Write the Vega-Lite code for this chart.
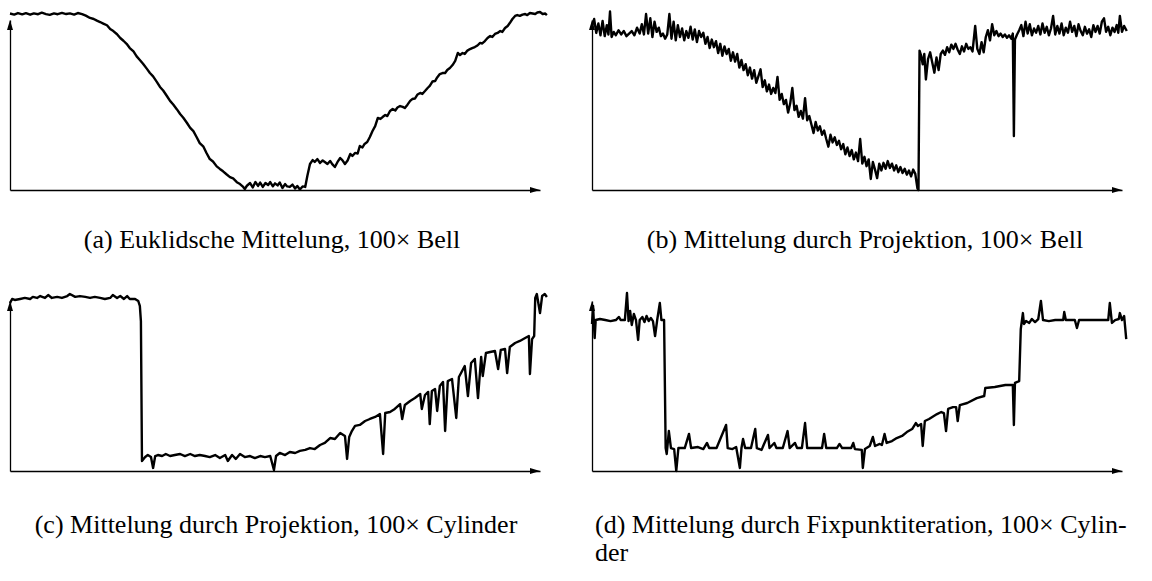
{
"$schema": "https://vega.github.io/schema/vega-lite/v6.json",
"background": "white",
"padding": {"left": 7, "top": 10, "right": 0, "bottom": 0},
"bounds": "flush",
"spacing": 281,
"config": {
  "view": {"stroke": null},
  "title": {"font": "Liberation Serif", "fontSize": 26, "fontWeight": "normal", "color": "black", "orient": "bottom", "offset": 34},
  "axis": {"domainColor": "black", "domainWidth": 1.3, "ticks": false, "labels": false, "grid": false}
},
"datasets": {
"a": [
{"x":0,"y":103.8},{"x":0.8,"y":103.2},{"x":1.5,"y":104.1},{"x":2.3,"y":103.3},{"x":3.0,"y":104.0},{"x":3.8,"y":103.1},{"x":4.5,"y":103.9},{"x":5.3,"y":103.4},{"x":6.0,"y":104.3},{"x":6.8,"y":103.5},{"x":7.5,"y":103.0},{"x":8.3,"y":103.9},{"x":9.0,"y":103.4},{"x":9.8,"y":104.2},{"x":10.6,"y":103.5},{"x":11.3,"y":103.9},{"x":12.1,"y":103.2},{"x":12.8,"y":104.1},{"x":13.6,"y":103.5},{"x":14.3,"y":102.6},{"x":15.1,"y":101.2},{"x":15.8,"y":100.6},{"x":16.4,"y":99.6},{"x":17.0,"y":98.8},{"x":17.6,"y":97.9},{"x":18.3,"y":96.9},{"x":18.9,"y":94.7},{"x":19.5,"y":93.5},{"x":20.2,"y":91.6},{"x":20.8,"y":89.4},{"x":21.4,"y":87.8},{"x":22.0,"y":86.0},{"x":22.6,"y":83.5},{"x":23.3,"y":81.5},{"x":23.9,"y":78.6},{"x":24.5,"y":76.5},{"x":25.1,"y":74.3},{"x":25.8,"y":71.4},{"x":26.4,"y":68.8},{"x":27.0,"y":66.8},{"x":27.7,"y":63.6},{"x":28.3,"y":60.6},{"x":28.9,"y":58.5},{"x":29.6,"y":55.3},{"x":30.2,"y":52.4},{"x":30.8,"y":50.3},{"x":31.5,"y":47.4},{"x":32.1,"y":44.7},{"x":32.7,"y":42.5},{"x":33.4,"y":39.4},{"x":34.0,"y":36.5},{"x":34.6,"y":34.6},{"x":35.2,"y":31.2},{"x":35.8,"y":27.6},{"x":36.5,"y":25.5},{"x":37.1,"y":21.6},{"x":37.7,"y":18.2},{"x":38.3,"y":16.8},{"x":39.0,"y":13.9},{"x":39.6,"y":12.4},{"x":40.2,"y":11.0},{"x":40.9,"y":9.1},{"x":41.5,"y":7.6},{"x":42.1,"y":6.8},{"x":42.8,"y":4.6},{"x":43.4,"y":3.5},{"x":44.0,"y":1.8},{"x":44.3,"y":0.6},{"x":44.7,"y":2.5},{"x":45.3,"y":4.1},{"x":45.8,"y":1.5},{"x":46.3,"y":4.7},{"x":46.8,"y":2.4},{"x":47.2,"y":4.4},{"x":47.7,"y":1.8},{"x":48.2,"y":4.1},{"x":48.7,"y":2.9},{"x":49.1,"y":4.7},{"x":49.6,"y":2.2},{"x":50.0,"y":3.9},{"x":50.5,"y":2.7},{"x":50.9,"y":4.4},{"x":51.4,"y":1.2},{"x":51.9,"y":3.5},{"x":52.3,"y":2.1},{"x":52.8,"y":1.8},{"x":53.3,"y":3.2},{"x":53.8,"y":0.9},{"x":54.2,"y":2.4},{"x":54.7,"y":0.3},{"x":55.2,"y":2.1},{"x":55.7,"y":1.8},{"x":56.1,"y":8.2},{"x":56.6,"y":15.3},{"x":57.1,"y":17.6},{"x":57.5,"y":16.5},{"x":58.0,"y":18.2},{"x":58.5,"y":15.9},{"x":59.0,"y":17.4},{"x":59.4,"y":16.5},{"x":59.9,"y":15.3},{"x":60.4,"y":17.1},{"x":60.8,"y":15.2},{"x":61.3,"y":13.5},{"x":61.8,"y":16.5},{"x":62.3,"y":18.8},{"x":62.7,"y":17.6},{"x":63.2,"y":15.3},{"x":63.7,"y":17.4},{"x":64.2,"y":21.2},{"x":64.6,"y":20.0},{"x":65.1,"y":21.8},{"x":65.6,"y":21.5},{"x":66.0,"y":25.9},{"x":66.5,"y":25.0},{"x":66.9,"y":27.1},{"x":67.4,"y":28.2},{"x":67.9,"y":31.2},{"x":68.4,"y":34.7},{"x":68.9,"y":37.6},{"x":69.4,"y":42.4},{"x":69.9,"y":41.8},{"x":70.3,"y":42.9},{"x":70.8,"y":44.1},{"x":71.2,"y":43.5},{"x":71.7,"y":46.5},{"x":72.2,"y":47.6},{"x":72.7,"y":46.8},{"x":73.1,"y":48.5},{"x":73.6,"y":49.4},{"x":74.1,"y":48.9},{"x":74.5,"y":48.2},{"x":75.0,"y":50.2},{"x":75.5,"y":52.4},{"x":75.9,"y":53.5},{"x":76.4,"y":53.8},{"x":76.9,"y":56.2},{"x":77.4,"y":57.1},{"x":77.8,"y":56.5},{"x":78.3,"y":58.2},{"x":78.8,"y":60.0},{"x":79.2,"y":61.2},{"x":79.7,"y":63.8},{"x":80.2,"y":64.1},{"x":80.6,"y":66.2},{"x":81.1,"y":68.2},{"x":81.6,"y":68.8},{"x":82.1,"y":68.8},{"x":82.5,"y":70.6},{"x":83.0,"y":71.8},{"x":83.5,"y":73.5},{"x":84.0,"y":75.9},{"x":84.5,"y":80.6},{"x":84.9,"y":79.4},{"x":85.4,"y":80.6},{"x":85.8,"y":80.0},{"x":86.3,"y":82.0},{"x":86.8,"y":82.9},{"x":87.2,"y":83.5},{"x":87.7,"y":84.1},{"x":88.2,"y":85.0},{"x":88.7,"y":86.5},{"x":89.1,"y":86.2},{"x":89.6,"y":87.6},{"x":90.1,"y":89.4},{"x":90.6,"y":90.6},{"x":91.0,"y":90.0},{"x":91.5,"y":91.8},{"x":92.0,"y":92.4},{"x":92.5,"y":93.5},{"x":92.9,"y":93.0},{"x":93.4,"y":95.3},{"x":93.9,"y":96.5},{"x":94.3,"y":98.2},{"x":94.8,"y":100.6},{"x":95.3,"y":102.4},{"x":95.7,"y":102.9},{"x":96.2,"y":102.4},{"x":96.7,"y":103.2},{"x":97.2,"y":103.5},{"x":97.6,"y":102.9},{"x":98.1,"y":104.1},{"x":98.6,"y":103.8},{"x":99.1,"y":103.5},{"x":99.5,"y":104.4},{"x":100.0,"y":104.7},{"x":100.5,"y":103.5},{"x":101.0,"y":103.8},{"x":101.3,"y":102.9}
],
"b": [
{"x":0,"y":96.5},{"x":0.4,"y":100.6},{"x":0.8,"y":92.4},{"x":1.2,"y":98.0},{"x":1.6,"y":91.0},{"x":2.0,"y":99.5},{"x":2.4,"y":90.5},{"x":2.8,"y":97.0},{"x":3.1,"y":91.5},{"x":3.4,"y":105.0},{"x":3.7,"y":90.0},{"x":4.1,"y":93.0},{"x":4.5,"y":91.0},{"x":5.0,"y":94.0},{"x":5.5,"y":91.5},{"x":6.0,"y":93.5},{"x":6.5,"y":90.5},{"x":7.0,"y":92.0},{"x":7.5,"y":93.5},{"x":8.0,"y":91.0},{"x":8.5,"y":95.5},{"x":9.0,"y":92.0},{"x":9.4,"y":97.5},{"x":9.8,"y":91.5},{"x":10.2,"y":103.5},{"x":10.6,"y":92.0},{"x":11.0,"y":101.0},{"x":11.4,"y":90.0},{"x":11.8,"y":99.0},{"x":12.2,"y":93.0},{"x":12.6,"y":95.5},{"x":13.0,"y":90.5},{"x":13.4,"y":92.0},{"x":13.8,"y":89.0},{"x":14.2,"y":91.5},{"x":14.6,"y":103.5},{"x":15.0,"y":89.0},{"x":15.4,"y":99.0},{"x":15.8,"y":88.0},{"x":16.2,"y":97.0},{"x":16.6,"y":90.0},{"x":17.0,"y":95.0},{"x":17.4,"y":88.0},{"x":17.8,"y":93.5},{"x":18.2,"y":89.5},{"x":18.6,"y":96.0},{"x":19.0,"y":88.5},{"x":19.4,"y":94.5},{"x":19.8,"y":87.0},{"x":20.2,"y":93.5},{"x":20.6,"y":90.0},{"x":21.0,"y":92.5},{"x":21.4,"y":86.0},{"x":21.8,"y":90.0},{"x":22.2,"y":83.5},{"x":22.6,"y":88.5},{"x":23.0,"y":84.0},{"x":23.4,"y":87.5},{"x":23.8,"y":80.5},{"x":24.2,"y":86.0},{"x":24.6,"y":79.0},{"x":25.0,"y":84.5},{"x":25.4,"y":80.0},{"x":25.8,"y":83.0},{"x":26.2,"y":76.0},{"x":26.6,"y":81.0},{"x":27.0,"y":75.5},{"x":27.4,"y":80.0},{"x":27.8,"y":72.0},{"x":28.2,"y":76.5},{"x":28.6,"y":70.5},{"x":29.0,"y":74.0},{"x":29.4,"y":67.5},{"x":29.8,"y":72.0},{"x":30.2,"y":65.5},{"x":30.6,"y":70.5},{"x":31.0,"y":63.0},{"x":31.4,"y":67.0},{"x":31.8,"y":71.0},{"x":32.2,"y":60.5},{"x":32.6,"y":64.5},{"x":33.0,"y":58.0},{"x":33.4,"y":62.0},{"x":33.8,"y":56.5},{"x":34.2,"y":60.0},{"x":34.6,"y":57.0},{"x":35.0,"y":66.5},{"x":35.4,"y":53.0},{"x":35.8,"y":56.5},{"x":36.2,"y":50.5},{"x":36.6,"y":53.0},{"x":37.0,"y":45.5},{"x":37.4,"y":51.0},{"x":37.8,"y":60.0},{"x":38.2,"y":47.0},{"x":38.6,"y":49.5},{"x":39.0,"y":43.0},{"x":39.4,"y":46.5},{"x":39.8,"y":42.0},{"x":40.2,"y":54.0},{"x":40.6,"y":41.0},{"x":41.0,"y":43.5},{"x":41.4,"y":38.5},{"x":41.8,"y":33.5},{"x":42.2,"y":40.0},{"x":42.6,"y":35.0},{"x":43.0,"y":37.5},{"x":43.4,"y":32.5},{"x":43.8,"y":35.0},{"x":44.2,"y":30.0},{"x":44.6,"y":25.5},{"x":45.0,"y":32.5},{"x":45.4,"y":28.0},{"x":45.8,"y":31.0},{"x":46.2,"y":26.5},{"x":46.6,"y":29.0},{"x":47.0,"y":24.0},{"x":47.4,"y":27.0},{"x":47.8,"y":21.0},{"x":48.2,"y":25.0},{"x":48.6,"y":20.0},{"x":49.0,"y":23.5},{"x":49.4,"y":18.0},{"x":49.8,"y":22.0},{"x":50.2,"y":17.0},{"x":50.6,"y":30.0},{"x":51.0,"y":15.5},{"x":51.4,"y":19.5},{"x":51.8,"y":14.0},{"x":52.2,"y":18.0},{"x":52.6,"y":6.5},{"x":53.0,"y":16.5},{"x":53.4,"y":12.0},{"x":53.8,"y":7.0},{"x":54.2,"y":15.5},{"x":54.6,"y":11.5},{"x":55.0,"y":16.0},{"x":55.4,"y":12.5},{"x":55.8,"y":17.0},{"x":56.2,"y":13.0},{"x":56.6,"y":15.5},{"x":57.0,"y":11.5},{"x":57.4,"y":14.5},{"x":57.8,"y":10.5},{"x":58.2,"y":13.5},{"x":58.6,"y":10.0},{"x":59.0,"y":12.5},{"x":59.4,"y":9.0},{"x":59.8,"y":11.5},{"x":60.2,"y":8.0},{"x":60.6,"y":12.0},{"x":61.0,"y":9.5},{"x":61.4,"y":1.0},{"x":61.6,"y":0.0},{"x":61.8,"y":82.0},{"x":62.1,"y":79.0},{"x":62.4,"y":74.0},{"x":62.7,"y":80.0},{"x":63.0,"y":65.0},{"x":63.4,"y":77.0},{"x":63.8,"y":81.0},{"x":64.2,"y":75.0},{"x":64.6,"y":69.0},{"x":65.0,"y":78.0},{"x":65.4,"y":70.5},{"x":65.8,"y":80.0},{"x":66.2,"y":82.0},{"x":66.6,"y":79.5},{"x":67.0,"y":84.0},{"x":67.4,"y":81.0},{"x":67.8,"y":85.5},{"x":68.2,"y":83.0},{"x":68.6,"y":86.0},{"x":69.0,"y":82.5},{"x":69.4,"y":80.0},{"x":69.8,"y":84.5},{"x":70.2,"y":81.5},{"x":70.6,"y":86.0},{"x":71.0,"y":83.0},{"x":71.4,"y":84.0},{"x":71.8,"y":81.5},{"x":72.3,"y":96.5},{"x":72.7,"y":83.0},{"x":73.1,"y":80.0},{"x":73.5,"y":87.0},{"x":73.9,"y":81.0},{"x":74.3,"y":90.0},{"x":74.7,"y":94.0},{"x":75.1,"y":88.0},{"x":75.5,"y":97.5},{"x":75.9,"y":91.0},{"x":76.3,"y":93.5},{"x":76.7,"y":90.5},{"x":77.1,"y":92.0},{"x":77.5,"y":90.0},{"x":77.9,"y":91.5},{"x":78.3,"y":89.5},{"x":78.7,"y":91.0},{"x":79.1,"y":89.0},{"x":79.4,"y":92.0},{"x":79.6,"y":31.8},{"x":79.8,"y":88.5},{"x":80.2,"y":91.5},{"x":80.6,"y":94.0},{"x":81.0,"y":97.0},{"x":81.4,"y":90.5},{"x":81.8,"y":99.0},{"x":82.2,"y":92.0},{"x":82.6,"y":97.5},{"x":83.0,"y":91.0},{"x":83.4,"y":95.0},{"x":83.8,"y":92.5},{"x":84.2,"y":96.5},{"x":84.6,"y":91.5},{"x":85.0,"y":98.0},{"x":85.4,"y":92.5},{"x":85.8,"y":96.0},{"x":86.2,"y":91.0},{"x":86.6,"y":95.0},{"x":87.0,"y":102.4},{"x":87.4,"y":91.5},{"x":87.8,"y":96.5},{"x":88.2,"y":92.0},{"x":88.6,"y":98.0},{"x":89.0,"y":91.0},{"x":89.4,"y":95.5},{"x":89.8,"y":92.5},{"x":90.2,"y":99.0},{"x":90.6,"y":93.0},{"x":91.0,"y":96.5},{"x":91.4,"y":90.5},{"x":91.8,"y":97.5},{"x":92.2,"y":93.5},{"x":92.6,"y":91.0},{"x":93.0,"y":96.0},{"x":93.4,"y":92.0},{"x":93.8,"y":94.5},{"x":94.2,"y":90.0},{"x":94.6,"y":97.0},{"x":95.0,"y":93.0},{"x":95.4,"y":96.5},{"x":95.8,"y":92.0},{"x":96.2,"y":99.0},{"x":96.6,"y":101.0},{"x":97.0,"y":93.0},{"x":97.4,"y":96.0},{"x":97.8,"y":91.0},{"x":98.2,"y":95.5},{"x":98.6,"y":93.0},{"x":99.0,"y":97.0},{"x":99.3,"y":92.5},{"x":99.6,"y":102.4},{"x":100.0,"y":93.0},{"x":100.4,"y":96.5},{"x":100.9,"y":93.5}
],
"c": [
{"x":0,"y":98.8},{"x":0.4,"y":101.2},{"x":0.9,"y":100.6},{"x":1.9,"y":101.2},{"x":2.8,"y":101.8},{"x":3.8,"y":101.2},{"x":4.3,"y":102.4},{"x":5.1,"y":101.8},{"x":5.7,"y":102.9},{"x":6.6,"y":101.8},{"x":7.2,"y":103.5},{"x":7.9,"y":101.8},{"x":8.9,"y":102.4},{"x":9.8,"y":101.8},{"x":10.8,"y":102.9},{"x":11.3,"y":104.1},{"x":12.3,"y":102.4},{"x":13.2,"y":102.9},{"x":14.2,"y":102.4},{"x":15.1,"y":101.8},{"x":16.0,"y":102.4},{"x":17.0,"y":101.8},{"x":17.9,"y":101.2},{"x":18.9,"y":101.8},{"x":19.4,"y":103.5},{"x":20.2,"y":101.8},{"x":20.8,"y":102.9},{"x":21.5,"y":101.2},{"x":22.1,"y":102.9},{"x":22.6,"y":101.2},{"x":23.6,"y":101.2},{"x":24.2,"y":100.0},{"x":24.5,"y":97.1},{"x":24.7,"y":88.2},{"x":24.9,"y":5.9},{"x":25.5,"y":8.2},{"x":26.0,"y":9.4},{"x":26.6,"y":8.2},{"x":27.0,"y":1.8},{"x":27.4,"y":8.8},{"x":27.9,"y":9.4},{"x":28.7,"y":8.8},{"x":29.4,"y":10.0},{"x":30.2,"y":8.8},{"x":31.1,"y":9.4},{"x":32.1,"y":10.0},{"x":33.0,"y":8.8},{"x":34.0,"y":10.0},{"x":34.9,"y":8.8},{"x":35.8,"y":9.4},{"x":36.8,"y":8.8},{"x":37.7,"y":8.2},{"x":38.7,"y":9.4},{"x":39.6,"y":7.6},{"x":40.6,"y":9.4},{"x":41.1,"y":5.9},{"x":41.9,"y":9.4},{"x":42.6,"y":7.1},{"x":43.4,"y":10.0},{"x":44.3,"y":8.2},{"x":45.3,"y":8.8},{"x":46.2,"y":7.6},{"x":47.2,"y":8.8},{"x":48.1,"y":8.2},{"x":49.1,"y":8.8},{"x":49.8,"y":0.6},{"x":50.2,"y":8.8},{"x":50.9,"y":10.6},{"x":51.9,"y":9.4},{"x":52.8,"y":11.2},{"x":53.8,"y":10.6},{"x":54.7,"y":11.8},{"x":55.7,"y":12.4},{"x":56.6,"y":13.5},{"x":57.5,"y":12.9},{"x":58.5,"y":15.3},{"x":59.4,"y":16.5},{"x":60.4,"y":19.4},{"x":61.3,"y":18.8},{"x":62.3,"y":22.4},{"x":63.2,"y":20.6},{"x":63.6,"y":7.1},{"x":64.0,"y":20.0},{"x":64.5,"y":23.5},{"x":65.1,"y":26.5},{"x":66.0,"y":27.1},{"x":67.0,"y":29.4},{"x":67.9,"y":30.6},{"x":68.9,"y":31.8},{"x":69.8,"y":33.5},{"x":70.4,"y":10.0},{"x":70.8,"y":34.1},{"x":71.7,"y":34.7},{"x":72.6,"y":36.5},{"x":73.6,"y":39.4},{"x":74.0,"y":30.6},{"x":74.5,"y":38.8},{"x":75.5,"y":41.2},{"x":76.4,"y":42.9},{"x":77.4,"y":45.3},{"x":77.7,"y":36.5},{"x":78.3,"y":44.7},{"x":78.9,"y":46.5},{"x":79.2,"y":27.6},{"x":79.6,"y":47.1},{"x":80.2,"y":48.2},{"x":80.6,"y":35.3},{"x":81.1,"y":50.0},{"x":81.7,"y":52.4},{"x":82.1,"y":23.5},{"x":82.6,"y":52.9},{"x":83.4,"y":54.1},{"x":84.2,"y":31.2},{"x":84.7,"y":55.3},{"x":85.3,"y":58.8},{"x":85.8,"y":61.8},{"x":86.4,"y":44.1},{"x":87.0,"y":63.5},{"x":87.7,"y":65.9},{"x":88.3,"y":42.9},{"x":88.9,"y":67.1},{"x":89.2,"y":55.9},{"x":89.8,"y":69.4},{"x":90.6,"y":70.0},{"x":91.5,"y":70.6},{"x":92.1,"y":60.0},{"x":92.6,"y":71.2},{"x":93.4,"y":71.8},{"x":93.8,"y":57.6},{"x":94.3,"y":72.9},{"x":95.3,"y":75.3},{"x":96.2,"y":76.5},{"x":97.2,"y":78.2},{"x":97.9,"y":79.4},{"x":98.1,"y":57.1},{"x":98.5,"y":77.6},{"x":98.9,"y":79.4},{"x":99.1,"y":101.8},{"x":99.4,"y":104.1},{"x":100.0,"y":92.9},{"x":100.4,"y":102.9},{"x":100.9,"y":104.1},{"x":101.3,"y":102.4}
],
"d": [
{"x":0,"y":86.5},{"x":0.2,"y":97.1},{"x":0.5,"y":78.2},{"x":0.7,"y":88.8},{"x":1.5,"y":89.4},{"x":2.5,"y":88.8},{"x":3.5,"y":88.2},{"x":4.5,"y":88.8},{"x":5.1,"y":90.6},{"x":5.4,"y":88.8},{"x":6.2,"y":88.8},{"x":6.6,"y":104.7},{"x":6.9,"y":88.2},{"x":7.2,"y":94.1},{"x":7.5,"y":85.9},{"x":7.9,"y":92.4},{"x":8.3,"y":88.8},{"x":8.7,"y":77.1},{"x":9.0,"y":88.8},{"x":9.5,"y":90.6},{"x":9.9,"y":87.6},{"x":10.3,"y":91.2},{"x":10.7,"y":88.2},{"x":11.1,"y":90.0},{"x":11.5,"y":88.2},{"x":11.9,"y":79.4},{"x":12.3,"y":88.8},{"x":12.8,"y":98.8},{"x":13.1,"y":88.8},{"x":13.6,"y":88.8},{"x":13.9,"y":13.5},{"x":14.1,"y":10.0},{"x":14.5,"y":23.5},{"x":14.9,"y":13.5},{"x":15.5,"y":12.9},{"x":15.9,"y":0.0},{"x":16.3,"y":13.5},{"x":17.5,"y":13.5},{"x":18.3,"y":21.8},{"x":18.7,"y":13.5},{"x":20.0,"y":14.1},{"x":21.0,"y":12.9},{"x":21.7,"y":16.5},{"x":22.1,"y":13.5},{"x":23.5,"y":13.5},{"x":25.3,"y":27.1},{"x":25.6,"y":13.5},{"x":26.5,"y":12.9},{"x":27.2,"y":14.1},{"x":27.9,"y":1.8},{"x":28.2,"y":13.5},{"x":28.5,"y":18.8},{"x":28.9,"y":13.5},{"x":30.0,"y":13.5},{"x":30.8,"y":24.7},{"x":31.1,"y":13.5},{"x":32.0,"y":12.4},{"x":32.3,"y":14.7},{"x":33.2,"y":21.2},{"x":33.5,"y":13.5},{"x":34.4,"y":16.5},{"x":34.8,"y":13.5},{"x":36.0,"y":13.5},{"x":36.9,"y":23.5},{"x":37.3,"y":13.5},{"x":38.3,"y":16.5},{"x":38.7,"y":13.5},{"x":39.6,"y":13.5},{"x":40.2,"y":28.2},{"x":40.6,"y":13.5},{"x":42.0,"y":13.5},{"x":43.4,"y":13.5},{"x":43.8,"y":21.8},{"x":44.2,"y":13.5},{"x":46.2,"y":13.5},{"x":46.7,"y":15.9},{"x":47.2,"y":13.5},{"x":48.9,"y":13.5},{"x":49.3,"y":16.5},{"x":49.6,"y":12.9},{"x":50.9,"y":12.4},{"x":51.1,"y":1.8},{"x":51.5,"y":12.9},{"x":52.4,"y":14.7},{"x":53.0,"y":20.0},{"x":53.4,"y":14.7},{"x":54.3,"y":15.9},{"x":54.7,"y":15.3},{"x":55.2,"y":21.8},{"x":55.6,"y":16.5},{"x":56.6,"y":17.6},{"x":57.5,"y":19.4},{"x":58.5,"y":20.6},{"x":59.4,"y":22.9},{"x":60.4,"y":24.7},{"x":61.1,"y":28.2},{"x":61.5,"y":26.5},{"x":62.1,"y":27.6},{"x":62.4,"y":14.7},{"x":62.8,"y":29.4},{"x":63.6,"y":30.6},{"x":64.2,"y":31.8},{"x":65.1,"y":33.5},{"x":65.9,"y":34.7},{"x":66.4,"y":34.1},{"x":66.8,"y":23.5},{"x":67.2,"y":36.5},{"x":68.1,"y":37.6},{"x":68.7,"y":37.6},{"x":69.0,"y":29.4},{"x":69.4,"y":38.8},{"x":70.8,"y":40.0},{"x":72.6,"y":42.9},{"x":74.0,"y":44.1},{"x":74.2,"y":48.8},{"x":76.0,"y":49.4},{"x":78.0,"y":50.6},{"x":79.4,"y":50.6},{"x":79.6,"y":27.1},{"x":79.8,"y":51.8},{"x":80.6,"y":52.9},{"x":80.9,"y":83.5},{"x":81.3,"y":92.9},{"x":81.5,"y":86.5},{"x":81.9,"y":88.2},{"x":82.5,"y":87.1},{"x":83.0,"y":89.4},{"x":83.6,"y":87.6},{"x":84.2,"y":89.4},{"x":84.7,"y":100.0},{"x":85.1,"y":88.8},{"x":86.2,"y":88.2},{"x":87.4,"y":88.8},{"x":88.9,"y":88.8},{"x":89.1,"y":93.5},{"x":89.4,"y":88.8},{"x":91.1,"y":88.8},{"x":91.5,"y":84.1},{"x":91.9,"y":88.8},{"x":97.4,"y":88.8},{"x":97.7,"y":98.8},{"x":98.1,"y":87.1},{"x":98.7,"y":88.8},{"x":99.4,"y":89.4},{"x":99.6,"y":92.9},{"x":100.0,"y":88.8},{"x":100.4,"y":91.2},{"x":100.8,"y":77.6}
],
"xarrow": [{"x":100,"y":0}],
"yarrow": [{"x":0,"y":100}]
},
"vconcat": [
{"hconcat": [
{"width": 530, "height": 170,
 "title": {"text": "(a) Euklidsche Mittelung, 100× Bell", "anchor": "middle", "dx": -3, "offset": 34},
 "layer": [
  {"data": {"name": "a"}, "mark": {"type": "line", "color": "black", "strokeWidth": 2.4, "strokeJoin": "round"},
   "encoding": {"x": {"field": "x", "type": "quantitative", "scale": {"domain": [0, 100], "nice": false, "zero": false}, "axis": {"title": null}},
                "y": {"field": "y", "type": "quantitative", "scale": {"domain": [0, 100], "nice": false, "zero": false}, "axis": {"title": null}}}},
  {"data": {"name": "xarrow"}, "mark": {"type": "point", "shape": "M0,0L-2,-0.6L-2,0.6Z", "filled": true, "size": 100, "color": "black", "opacity": 1},
   "encoding": {"x": {"field": "x", "type": "quantitative"}, "y": {"field": "y", "type": "quantitative"}}},
  {"data": {"name": "yarrow"}, "mark": {"type": "point", "shape": "M0,0L-0.6,2L0.6,2Z", "filled": true, "size": 100, "color": "black", "opacity": 1},
   "encoding": {"x": {"field": "x", "type": "quantitative"}, "y": {"field": "y", "type": "quantitative"}}}
 ]},
{"width": 530, "height": 170,
 "title": {"text": "(b) Mittelung durch Projektion, 100× Bell", "anchor": "middle", "dx": 8, "offset": 34},
 "layer": [
  {"data": {"name": "b"}, "mark": {"type": "line", "color": "black", "strokeWidth": 2.4, "strokeJoin": "round"},
   "encoding": {"x": {"field": "x", "type": "quantitative", "scale": {"domain": [0, 100], "nice": false, "zero": false}, "axis": {"title": null}},
                "y": {"field": "y", "type": "quantitative", "scale": {"domain": [0, 100], "nice": false, "zero": false}, "axis": {"title": null}}}},
  {"data": {"name": "xarrow"}, "mark": {"type": "point", "shape": "M0,0L-2,-0.6L-2,0.6Z", "filled": true, "size": 100, "color": "black", "opacity": 1},
   "encoding": {"x": {"field": "x", "type": "quantitative"}, "y": {"field": "y", "type": "quantitative"}}},
  {"data": {"name": "yarrow"}, "mark": {"type": "point", "shape": "M0,0L-0.6,2L0.6,2Z", "filled": true, "size": 100, "color": "black", "opacity": 1},
   "encoding": {"x": {"field": "x", "type": "quantitative"}, "y": {"field": "y", "type": "quantitative"}}}
 ]}
], "spacing": 52, "bounds": "flush"},
{"hconcat": [
{"width": 530, "height": 170,
 "title": {"text": "(c) Mittelung durch Projektion, 100× Cylinder", "anchor": "middle", "dx": 1, "offset": 38},
 "layer": [
  {"data": {"name": "c"}, "mark": {"type": "line", "color": "black", "strokeWidth": 2.4, "strokeJoin": "round"},
   "encoding": {"x": {"field": "x", "type": "quantitative", "scale": {"domain": [0, 100], "nice": false, "zero": false}, "axis": {"title": null}},
                "y": {"field": "y", "type": "quantitative", "scale": {"domain": [0, 100], "nice": false, "zero": false}, "axis": {"title": null}}}},
  {"data": {"name": "xarrow"}, "mark": {"type": "point", "shape": "M0,0L-2,-0.6L-2,0.6Z", "filled": true, "size": 100, "color": "black", "opacity": 1},
   "encoding": {"x": {"field": "x", "type": "quantitative"}, "y": {"field": "y", "type": "quantitative"}}},
  {"data": {"name": "yarrow"}, "mark": {"type": "point", "shape": "M0,0L-0.6,2L0.6,2Z", "filled": true, "size": 100, "color": "black", "opacity": 1},
   "encoding": {"x": {"field": "x", "type": "quantitative"}, "y": {"field": "y", "type": "quantitative"}}}
 ]},
{"width": 530, "height": 170,
 "title": {"text": ["(d) Mittelung durch Fixpunktiteration, 100× Cylin-", "der"], "anchor": "start", "dx": 6, "offset": 38, "lineHeight": 28},
 "layer": [
  {"data": {"name": "d"}, "mark": {"type": "line", "color": "black", "strokeWidth": 2.4, "strokeJoin": "round"},
   "encoding": {"x": {"field": "x", "type": "quantitative", "scale": {"domain": [0, 100], "nice": false, "zero": false}, "axis": {"title": null}},
                "y": {"field": "y", "type": "quantitative", "scale": {"domain": [0, 100], "nice": false, "zero": false}, "axis": {"title": null}}}},
  {"data": {"name": "xarrow"}, "mark": {"type": "point", "shape": "M0,0L-2,-0.6L-2,0.6Z", "filled": true, "size": 100, "color": "black", "opacity": 1},
   "encoding": {"x": {"field": "x", "type": "quantitative"}, "y": {"field": "y", "type": "quantitative"}}},
  {"data": {"name": "yarrow"}, "mark": {"type": "point", "shape": "M0,0L-0.6,2L0.6,2Z", "filled": true, "size": 100, "color": "black", "opacity": 1},
   "encoding": {"x": {"field": "x", "type": "quantitative"}, "y": {"field": "y", "type": "quantitative"}}}
 ]}
], "spacing": 52, "bounds": "flush"}
]
}
